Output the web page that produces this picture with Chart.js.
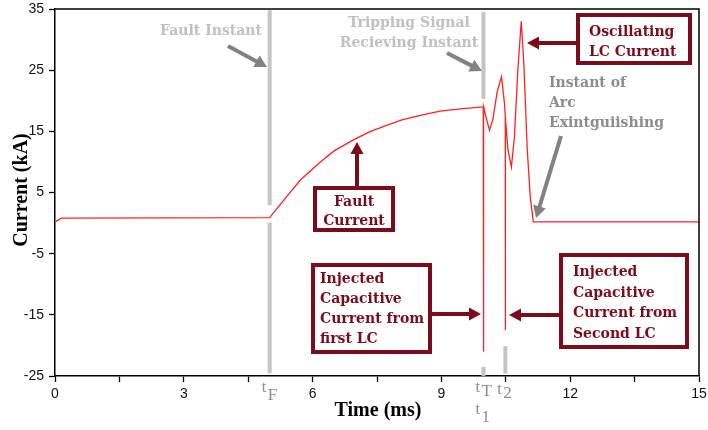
<!DOCTYPE html>
<html>
<head>
<meta charset="utf-8">
<script src="https://cdn.jsdelivr.net/npm/chart.js@4.4.0/dist/chart.umd.min.js"></script>
<style>
html, body { margin: 0; padding: 0; background: #fff; }
</style>
</head>
<body>
<canvas id="currentChart" width="708" height="430"></canvas>
<script>
// Breaker current (kA) against time (ms)
const timeMs = [0, 0.15, 2.5, 5.0, 5.3, 5.71, 6.18, 6.5, 6.95, 7.35, 7.74, 8.1, 8.51, 8.97, 9.5, 9.975,
    9.98, 9.985, 10.05, 10.12, 10.2, 10.3, 10.4, 10.47, 10.488, 10.49, 10.492, 10.55, 10.63, 10.7, 10.78,
    10.86, 10.92, 11.0, 11.07, 11.14, 15];
const currentKA = [0.2, 0.8, 0.85, 0.9, 3.5, 7.0, 10.0, 11.8, 13.6, 15.0, 16.0, 16.9, 17.6, 18.3, 18.7, 19.0,
    -21.0, 19.0, 17.0, 15.2, 17.0, 21.5, 23.9, 19.5, 17.5, -17.5, 17.2, 12.0, 9.2, 14.0, 25.0,
    33.0, 26.0, 12.0, 4.2, 0.2, 0.2];

const xTicks = [0, 1.5, 3, 4.5, 6, 7.5, 9, 10.5, 12, 13.5, 15];
const yTicks = [-25, -15, -5, 5, 15, 25, 35];

// marked instants (ms)
const tFault = 5.0;
const tTrip = 9.98;
const tSecond = 10.49;

const points = timeMs.map((t, i) => ({ x: t, y: currentKA[i] }));

const serif = '"DejaVu Serif", serif';
const darkRed = '#7a0c1c';

function arrow(ctx, x1, y1, x2, y2, color, w, head) {
    const a = Math.atan2(y2 - y1, x2 - x1);
    ctx.save();
    ctx.strokeStyle = color;
    ctx.fillStyle = color;
    ctx.lineWidth = w;
    ctx.beginPath();
    ctx.moveTo(x1, y1);
    ctx.lineTo(x2 - Math.cos(a) * head * 0.8, y2 - Math.sin(a) * head * 0.8);
    ctx.stroke();
    ctx.beginPath();
    ctx.moveTo(x2, y2);
    ctx.lineTo(x2 - Math.cos(a) * head + Math.sin(a) * head * 0.55, y2 - Math.sin(a) * head - Math.cos(a) * head * 0.55);
    ctx.lineTo(x2 - Math.cos(a) * head - Math.sin(a) * head * 0.55, y2 - Math.sin(a) * head + Math.cos(a) * head * 0.55);
    ctx.closePath();
    ctx.fill();
    ctx.restore();
}

function box(ctx, x, y, w, h, lines, tx, ty, lh, align) {
    ctx.save();
    ctx.fillStyle = '#fff';
    ctx.fillRect(x, y, w, h);
    ctx.strokeStyle = darkRed;
    ctx.lineWidth = 4;
    ctx.strokeRect(x, y, w, h);
    ctx.fillStyle = darkRed;
    ctx.font = 'bold 14px ' + serif;
    ctx.textAlign = align || 'left';
    ctx.textBaseline = 'alphabetic';
    lines.forEach((s, i) => ctx.fillText(s, tx, ty + i * lh));
    ctx.restore();
}

function grayText(ctx, lines, x, y, lh, color, align) {
    ctx.save();
    ctx.fillStyle = color;
    ctx.font = 'bold 14px ' + serif;
    ctx.textAlign = align || 'left';
    lines.forEach((s, i) => ctx.fillText(s, x, y + i * lh));
    ctx.restore();
}

const markers = {
    id: 'markers',
    beforeDatasetsDraw(chart) {
        const { ctx, scales: { x, y } } = chart;
        ctx.save();
        ctx.strokeStyle = '#c4c4c4';
        ctx.lineWidth = 4;
        const seg = (t, v1, v2) => {
            ctx.beginPath();
            ctx.moveTo(x.getPixelForValue(t), y.getPixelForValue(v1));
            ctx.lineTo(x.getPixelForValue(t), y.getPixelForValue(v2));
            ctx.stroke();
        };
        seg(tFault, 34.8, 2.9);
        seg(tFault, 0.1, -24.6);
        seg(tTrip, 34.5, 20.3);
        seg(tTrip, -23.5, -25);
        seg(tSecond, -20.1, -24.6);
        ctx.restore();
    },
    afterDraw(chart) {
        const { ctx, chartArea: a, scales: { x, y } } = chart;
        ctx.save();
        // frame top and right
        ctx.strokeStyle = '#000';
        ctx.lineWidth = 1.5;
        ctx.beginPath();
        ctx.moveTo(a.left, a.top);
        ctx.lineTo(a.right, a.top);
        ctx.lineTo(a.right, a.bottom);
        ctx.stroke();

        // axis titles
        ctx.fillStyle = '#000';
        ctx.font = 'bold 20px "Liberation Serif", serif';
        ctx.textAlign = 'center';
        ctx.textBaseline = 'middle';
        ctx.fillText('Time (ms)', 378, 411);
        ctx.save();
        ctx.translate(22, 190);
        ctx.rotate(-Math.PI / 2);
        ctx.fillText('Current (kA)', 0, 0);
        ctx.restore();

        // instant labels under the axis
        ctx.fillStyle = '#8c8c8c';
        ctx.textAlign = 'left';
        ctx.textBaseline = 'alphabetic';
        const sub = (main, s, t, base, dx, dy) => {
            const px = x.getPixelForValue(t);
            ctx.font = '16px "Liberation Serif", serif';
            ctx.fillText(main, px - 8, base);
            ctx.font = '17px "Liberation Serif", serif';
            ctx.fillText(s, px - 8 + dx, base + dy);
        };
        sub('t', 'F', tFault, 392, 6, 8);
        sub('t', 'T', tTrip, 392, 6, 4);
        sub('t', '1', tTrip, 414, 6, 8);
        sub('t', '2', tSecond, 394, 6, 4);
        ctx.restore();

        // grey annotations
        grayText(ctx, ['Fault Instant'], 262, 35, 20, '#c0c0c0', 'right');
        arrow(ctx, 228, 46, 267, 67, '#828282', 4, 12);
        grayText(ctx, ['Tripping Signal', 'Recieving Instant'], 409, 27, 20, '#c0c0c0', 'center');
        arrow(ctx, 447, 53, 482, 71, '#828282', 4, 12);
        grayText(ctx, ['Instant of', 'Arc', 'Exintguiishing'], 549, 87, 20, '#8c8c8c', 'left');
        arrow(ctx, 561, 136, 536, 218, '#828282', 4, 12);

        // red boxed annotations
        box(ctx, 578, 15, 112, 48, ['Oscillating', 'LC Current'], 589, 36, 20);
        arrow(ctx, 578, 43, 527, 43, darkRed, 4, 12);
        box(ctx, 315, 188, 78, 42, ['Fault', 'Current'], 354, 206, 19, 'center');
        arrow(ctx, 357, 188, 357, 142, darkRed, 4, 12);
        box(ctx, 313, 265, 117, 87, ['Injected', 'Capacitive', 'Current from', 'first LC'], 320, 283, 20);
        arrow(ctx, 430, 314, 481, 314, darkRed, 4, 12);
        box(ctx, 561, 255, 126, 92, ['Injected', 'Capacitive', 'Current from', 'Second LC'], 573, 276, 20.5);
        arrow(ctx, 561, 315, 509, 315, darkRed, 4, 12);
    }
};

new Chart('currentChart', {
    type: 'line',
    data: {
        datasets: [{
            data: points,
            borderColor: '#ff2020',
            borderWidth: 1.3,
            pointRadius: 0,
            tension: 0,
            fill: false
        }]
    },
    options: {
        responsive: false,
        animation: false,
        devicePixelRatio: 1,
        layout: { padding: { top: 9, right: 9, left: 0, bottom: 0 } },
        plugins: { legend: { display: false }, tooltip: { enabled: false } },
        scales: {
            x: {
                type: 'linear',
                min: 0,
                max: 15,
                afterBuildTicks: s => { s.ticks = xTicks.map(v => ({ value: v })); },
                afterFit: s => { s.height = 54; s.paddingLeft = 0; s.paddingRight = 0; },
                grid: { drawOnChartArea: false, drawTicks: true, tickLength: 6, color: '#000', tickWidth: 1.3 },
                border: { display: true, color: '#000', width: 1.5 },
                ticks: {
                    color: '#111',
                    padding: 4,
                    maxRotation: 0,
                    autoSkip: false,
                    font: { family: '"Liberation Sans", Arial, sans-serif', size: 14 },
                    callback: v => (v % 3 === 0 ? String(v) : '')
                }
            },
            y: {
                min: -25,
                max: 35,
                afterBuildTicks: s => { s.ticks = yTicks.map(v => ({ value: v })); },
                afterFit: s => { s.width = 55; s.paddingTop = 0; s.paddingBottom = 0; },
                grid: { drawOnChartArea: false, drawTicks: true, tickLength: 6, color: '#000', tickWidth: 1.3 },
                border: { display: true, color: '#000', width: 1.5 },
                ticks: {
                    color: '#111',
                    padding: 5,
                    font: { family: '"Liberation Sans", Arial, sans-serif', size: 14 }
                }
            }
        }
    },
    plugins: [markers]
});
</script>
</body>
</html>
